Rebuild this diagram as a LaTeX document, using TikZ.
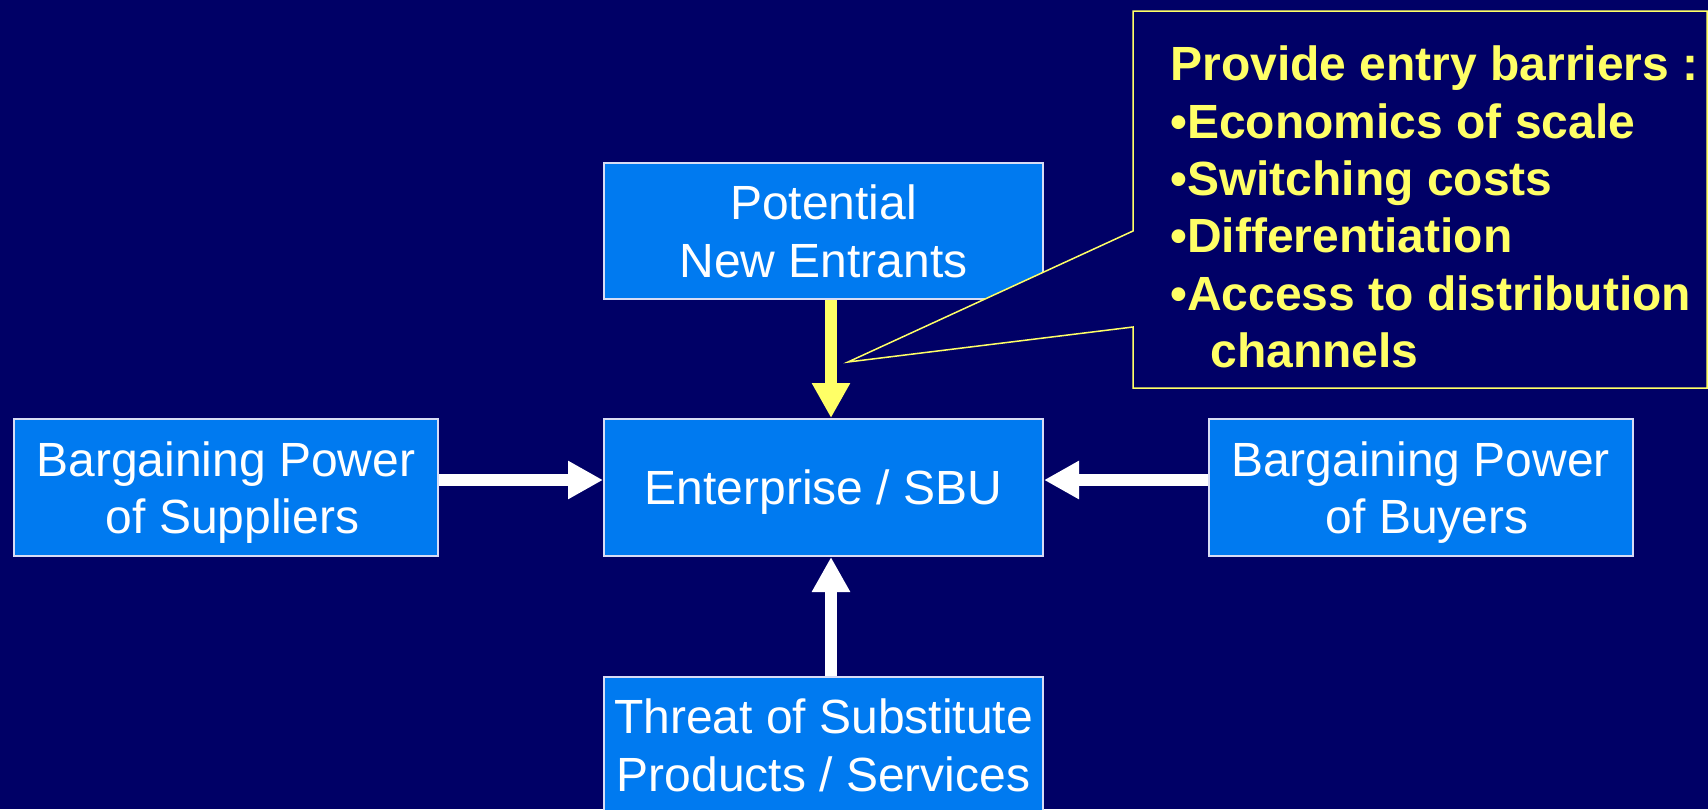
\documentclass[tikz,border=0pt]{standalone}
\usepackage{fontspec}
\setmainfont{Liberation Sans}
\usetikzlibrary{arrows.meta}

\definecolor{slidebg}{RGB}{0,0,102}
\definecolor{boxfill}{RGB}{0,122,240}
\definecolor{boxline}{RGB}{215,220,245}
\definecolor{hilite}{RGB}{255,255,102}

% last line of a box label: ignore descenders when centring
\newcommand\nodepth[1]{\raisebox{0pt}[\height][0pt]{#1}}

\begin{document}
\begin{tikzpicture}[x=0.5pt,y=-0.5pt,
  force/.style={draw=boxline, line width=1pt, fill=boxfill, text=white,
    inner sep=0pt, align=center, minimum height=68.5pt,
    font=\fontsize{24pt}{28.7pt}\selectfont},
  push/.style={line width=6pt, -{Triangle[length=17.5pt,width=18pt]}},
  callout/.style={draw=hilite, line width=0.75pt, fill=slidebg},
  bullets/.style={anchor=north west, inner sep=0pt, text=hilite, align=left,
    font=\bfseries\fontsize{24pt}{28.7pt}\selectfont},
]
\useasboundingbox (0,0) rectangle (1708,809);
\fill[slidebg] (0,0) rectangle (1708,809);

% the five forces
\node[force, minimum width=219.5pt] (ent) at (823.5,487.5) {\nodepth{Enterprise / SBU}};
\node[force, minimum width=212pt] (sup) at (226,487.5)
  {Bargaining Power\\\hspace*{0.278em}\nodepth{of Suppliers}};
\node[force, minimum width=212pt] (buy) at (1420.5,487.5)
  {Bargaining Power\\\hspace*{0.278em}\nodepth{of Buyers}};
\node[force, minimum width=219.5pt, minimum height=68pt] (pot) at (823.5,231)
  {Potential\\\nodepth{New Entrants}};
\node[force, minimum width=219.5pt, minimum height=68pt] (thr) at (823.5,745)
  {Threat of Substitute\\\nodepth{Products / Services}};

% pressures on the enterprise
\draw[push, white] ([yshift=3.75pt]sup.east) -- ([yshift=3.75pt]ent.west);
\draw[push, white] ([yshift=3.75pt]buy.west) -- ([yshift=3.75pt]ent.east);
\draw[push, white] ([xshift=3.75pt]thr.north) -- ([xshift=3.75pt]ent.south);
\draw[push, hilite] ([xshift=3.75pt]pot.south) -- ([xshift=3.75pt]ent.north);

% callout on the entrants arrow
\coordinate (tip) at (848,362);
\draw[callout] (1133,11) -- (1707,11) -- (1707,388) -- (1133,388)
  -- (1133,327) -- (tip) -- (1133,231) -- cycle;
\node[bullets] (barriers) at (1170,45.5)
  {Provide entry barriers :\\•Economics of scale\\•Switching costs\\%
   •Differentiation\\•Access to distribution\\\hspace*{0.834em}channels};
\end{tikzpicture}
\end{document}
